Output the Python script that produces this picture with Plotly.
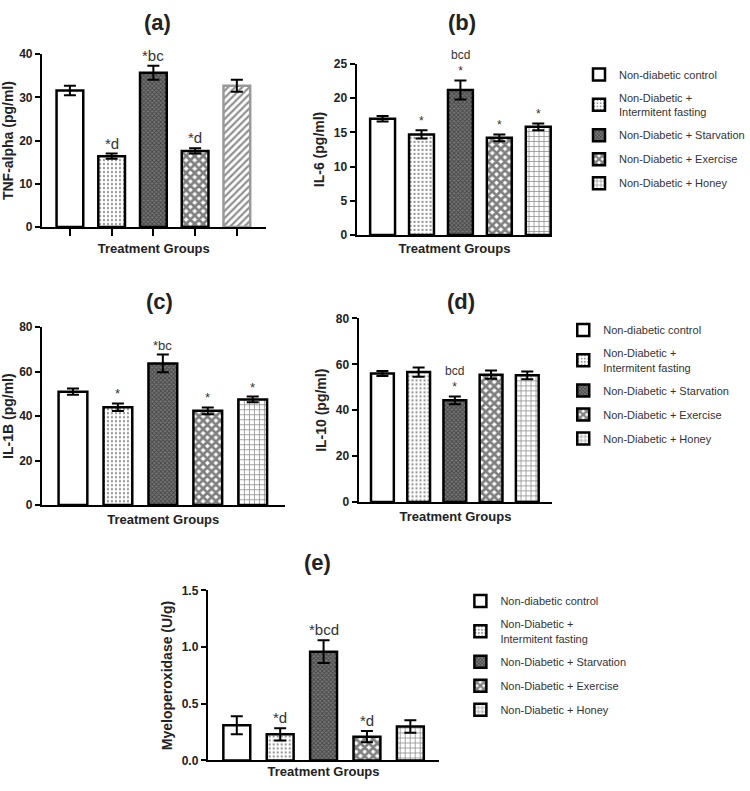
import plotly.graph_objects as go

# ---------------- data ----------------
group_codes = ["NC", "NIF", "NS", "NE", "NH"]
group_names = [
    "Non-diabetic control",
    "Non-Diabetic +<br>Intermitent fasting",
    "Non-Diabetic + Starvation",
    "Non-Diabetic + Exercise",
    "Non-Diabetic + Honey",
]

tnf_mean = [31.6, 16.4, 35.7, 17.6, 32.7]
tnf_sem = [1.1, 0.6, 1.6, 0.6, 1.4]
tnf_sig = ["", "*d", "*bc", "*d", ""]

il6_mean = [17.0, 14.7, 21.2, 14.2, 15.8]
il6_sem = [0.4, 0.6, 1.4, 0.5, 0.5]
il6_sig = ["", "*", "bcd<br>*", "*", "*"]

il1b_mean = [51.0, 44.0, 63.7, 42.4, 47.5]
il1b_sem = [1.4, 1.7, 4.0, 1.5, 1.3]
il1b_sig = ["", "*", "*bc", "*", "*"]

il10_mean = [56.0, 56.6, 44.3, 55.5, 55.2]
il10_sem = [1.1, 2.0, 1.7, 1.8, 1.7]
il10_sig = ["", "", "bcd<br>*", "", ""]

mpo_mean = [0.31, 0.23, 0.96, 0.21, 0.30]
mpo_sem = [0.08, 0.055, 0.10, 0.05, 0.055]
mpo_sig = ["", "*d", "*bcd", "*d", ""]

panel_letters = ["(a)", "(b)", "(c)", "(d)", "(e)"]
y_titles = ["TNF-alpha (pg/ml)", "IL-6 (pg/ml)", "IL-1B (pg/ml)", "IL-10 (pg/ml)", "Myeloperoxidase (U/g)"]
x_title = "Treatment Groups"

# ---------------- styling ----------------
W, H = 750, 791
FONT = "Liberation Sans Narrow, Arial Narrow, Liberation Sans, Arial, sans-serif"
FONT2 = "Liberation Sans, Arial, sans-serif"

patterns = [
    dict(shape="", fgcolor="black", bgcolor="white"),
    dict(shape=".", size=4, solidity=0.25, fgcolor="#222", bgcolor="white"),
    dict(shape="x", size=3, solidity=0.5, fgcolor="#111", bgcolor="#777"),
    dict(shape="x", size=6, solidity=0.7, fgcolor="black", bgcolor="white"),
    dict(shape="+", size=5, solidity=0.3, fgcolor="#222", bgcolor="white"),
]
pattern_a_last = dict(shape="/", size=5, solidity=0.45, fgcolor="#222", bgcolor="white")


def px_x(p):
    return p / W


def px_y(p):
    return 1 - p / H


panels = [
    dict(means=tnf_mean, sems=tnf_sem, sig=tnf_sig, x0=42, x1=266, ytop=48, ybot=224,
         xr=[-0.67, 4.69], ymax=40, dtick=10, w=0.64, sigsize=15, legend=None,
         title_xy=(158, 16), tstand=9),
    dict(means=il6_mean, sems=il6_sem, sig=il6_sig, x0=357, x1=553, ytop=58, ybot=232,
         xr=[-0.67, 4.36], ymax=25, dtick=5, w=0.64, sigsize=12, legend="legend",
         title_xy=(463, 16), tstand=8),
    dict(means=il1b_mean, sems=il1b_sem, sig=il1b_sig, x0=42, x1=285, ytop=326, ybot=507,
         xr=[-0.69, 4.71], ymax=80, dtick=20, w=0.64, sigsize=13, legend=None,
         title_xy=(160, 300), tstand=9),
    dict(means=il10_mean, sems=il10_sem, sig=il10_sig, x0=359, x1=553, ytop=317, ybot=504,
         xr=[-0.66, 4.69], ymax=80, dtick=20, w=0.63, sigsize=12, legend="legend2",
         title_xy=(462, 300), tstand=9),
    dict(means=mpo_mean, sems=mpo_sem, sig=mpo_sig, x0=208, x1=440, ytop=594, ybot=767,
         xr=[-0.67, 4.67], ymax=1.5, dtick=0.5, w=0.62, sigsize=15, legend="legend3",
         title_xy=(318, 565), tstand=5),
]

fig = go.Figure()
annotations = []

for k, p in enumerate(panels):
    sfx = "" if k == 0 else str(k + 1)
    xa, ya = "x" + sfx, "y" + sfx
    for i in range(5):
        pat = patterns[i]
        line_col = "black"
        if k == 0 and i == 4:
            pat = pattern_a_last
            line_col = "#999"
        fig.add_trace(go.Bar(
            x=[group_codes[i]], y=[p["means"][i]],
            width=p["w"],
            name=group_names[i],
            marker=dict(color="white", line=dict(color=line_col, width=2.5), pattern=pat),
            error_y=dict(type="data", array=[p["sems"][i]], color="black", thickness=2, width=6),
            xaxis=xa, yaxis=ya,
            showlegend=p["legend"] is not None,
            legend=p["legend"] if p["legend"] else "legend",
            legendgroup=f"p{k}g{i}",
        ))
        if p["sig"][i]:
            annotations.append(dict(
                x=group_codes[i], y=p["means"][i] + p["sems"][i],
                xref=xa, yref=ya, text=p["sig"][i], showarrow=False,
                yanchor="bottom", yshift=0,
                font=dict(family=FONT, size=p["sigsize"], color="#333"),
            ))
    annotations.append(dict(
        x=px_x(p["title_xy"][0]), y=px_y(p["title_xy"][1]), xref="paper", yref="paper",
        text=panel_letters[k], showarrow=False, xanchor="center", yanchor="middle",
        font=dict(family=FONT2, size=22, color="#222", weight="bold"),
    ))
    xkey = "xaxis" if k == 0 else f"xaxis{k + 1}"
    ykey = "yaxis" if k == 0 else f"yaxis{k + 1}"
    xaxis = dict(
        domain=[px_x(p["x0"]), px_x(p["x1"])], range=p["xr"], anchor=ya,
        type="category", categoryorder="array", categoryarray=group_codes,
        showline=True, linecolor="black", linewidth=2, showgrid=False, zeroline=False,
        showticklabels=False, ticks="outside" if k == 0 else "", ticklen=7, tickwidth=2,
        tickcolor="black",
        title=dict(text=x_title, standoff=p["tstand"],
                   font=dict(family=FONT, size=13, color="#222", weight="bold")),
    )
    yaxis = dict(
        domain=[px_y(p["ybot"]), px_y(p["ytop"])], range=[0, p["ymax"]], anchor=xa,
        dtick=p["dtick"], tickformat=".1f" if k == 4 else "d",
        showline=True, linecolor="black", linewidth=2, showgrid=False, zeroline=False,
        ticks="outside", ticklen=5, tickwidth=2, tickcolor="black",
        tickfont=dict(family=FONT, size=12, color="#222", weight="bold"),
        title=dict(text=y_titles[k], standoff=6,
                   font=dict(family=FONT2, size=14, color="#222", weight="bold")),
    )
    fig.update_layout({xkey: xaxis, ykey: yaxis})

leg_common = dict(
    xanchor="left", yanchor="top", bgcolor="rgba(0,0,0,0)",
    font=dict(family=FONT, size=11, color="#333"),
    traceorder="grouped", tracegroupgap=5, itemclick=False, itemdoubleclick=False,
)
fig.update_layout(
    width=W, height=H,
    margin=dict(l=0, r=0, t=0, b=0),
    paper_bgcolor="white", plot_bgcolor="white",
    barmode="overlay",
    showlegend=True,
    legend=dict(x=px_x(580), y=px_y(54), **leg_common),
    legend2=dict(x=px_x(564), y=px_y(314), **leg_common),
    legend3=dict(x=px_x(461), y=px_y(590), **leg_common),
    annotations=annotations,
)

fig.write_html(
    "out.html",
    config={"displayModeBar": False},
    post_script="document.body.style.margin='0';document.body.style.overflow='hidden';",
)
